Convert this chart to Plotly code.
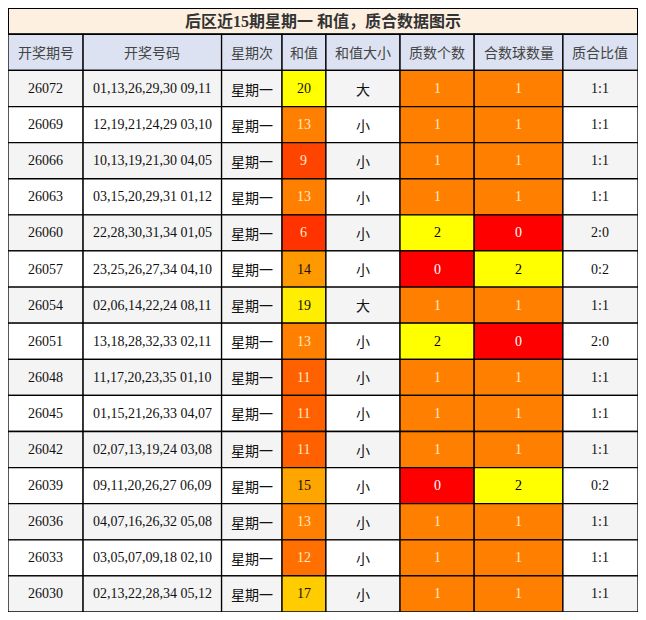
import plotly.graph_objects as go

title = "后区近15期星期一 和值，质合数据图示"
headers = ["开奖期号", "开奖号码", "星期次", "和值", "和值大小", "质数个数", "合数球数量", "质合比值"]
issues = ["26072","26069","26066","26063","26060","26057","26054","26051","26048","26045","26042","26039","26036","26033","26030"]
numbers = ["01,13,26,29,30 09,11","12,19,21,24,29 03,10","10,13,19,21,30 04,05","03,15,20,29,31 01,12",
           "22,28,30,31,34 01,05","23,25,26,27,34 04,10","02,06,14,22,24 08,11","13,18,28,32,33 02,11",
           "11,17,20,23,35 01,10","01,15,21,26,33 04,07","02,07,13,19,24 03,08","09,11,20,26,27 06,09",
           "04,07,16,26,32 05,08","03,05,07,09,18 02,10","02,13,22,28,34 05,12"]
weekday = ["星期一"] * 15
sums = [20,13,9,13,6,14,19,13,11,11,11,15,13,12,17]
size = ["大","小","小","小","小","小","大","小","小","小","小","小","小","小","小"]
primes = [1,1,1,1,2,0,1,2,1,1,1,0,1,1,1]
comps = [1,1,1,1,0,2,1,0,1,1,1,2,1,1,1]
ratio = ["1:1","1:1","1:1","1:1","2:0","0:2","1:1","2:0","1:1","1:1","1:1","0:2","1:1","1:1","1:1"]

sum_col = {6:"#FF3300",9:"#FF4400",11:"#FF6000",12:"#FF7000",13:"#FF8000",14:"#FF9900",
           15:"#FFA500",17:"#FFCC00",19:"#FFEE00",20:"#FFFF00"}
cnt_col = {0:"#FF0000",1:"#FF8000",2:"#FFFF00"}
cnt_font = {0:"#FFFFFF",1:"#FFE8C8",2:"#000000"}

n = len(issues)
colw = [77, 142, 62, 45, 76, 76, 91, 77]
edges = [0]
for w in colw:
    edges.append(edges[-1] + w)
TH, RH = 27, 37
TOT_H = TH + RH * (n + 1)
W, H = 630, 604
fam = "Liberation Serif, Noto Sans CJK SC, serif"
cjk = "Noto Sans CJK SC, sans-serif"

cols = [issues, numbers, weekday, sums, size, primes, comps, ratio]
shapes, ann = [], []

def cell(c, r_top, h, fill, text, color, font, sz):
    x0, x1 = edges[c], edges[c + 1]
    shapes.append(dict(type="rect", x0=x0, x1=x1, y0=r_top, y1=r_top + h, fillcolor=fill,
                       line=dict(color="black", width=1.3), layer="above"))
    ann.append(dict(x=(x0 + x1) / 2, y=r_top + h / 2, text=str(text), showarrow=False,
                    font=dict(family=font, size=sz, color=color)))

shapes.append(dict(type="rect", x0=0, x1=edges[-1], y0=0, y1=TH, fillcolor="#FDF0E1",
                   line=dict(color="black", width=2), layer="above"))
ann.append(dict(x=edges[-1] / 2, y=TH / 2, text="<b>" + title + "</b>", showarrow=False,
                font=dict(family=fam, size=16, color="#333")))
for c, h in enumerate(headers):
    cell(c, TH, RH, "#DCE2F1", h, "#444", cjk, 14)
for r in range(n):
    bg = "#F4F4F4" if r % 2 == 0 else "#FFFFFF"
    top = TH + RH * (r + 1)
    for c in range(8):
        v = cols[c][r]
        fill, color, font = bg, "#111", fam
        if c == 3:
            fill = sum_col[v]; color = "#FFE8C8" if v <= 13 else "#111"
        elif c == 5 or c == 6:
            fill = cnt_col[v]; color = cnt_font[v]
        if c in (2, 4):
            font = cjk
        cell(c, top, RH, fill, v, color, font, 14)

fig = go.Figure(go.Scatter(x=[0, edges[-1]], y=[0, TOT_H], mode="markers",
                           marker=dict(opacity=0), hoverinfo="skip", showlegend=False))
fig.update_layout(width=W, height=H, margin=dict(l=0, r=0, t=0, b=0), paper_bgcolor="white",
                  plot_bgcolor="white", shapes=shapes, annotations=ann,
                  xaxis=dict(range=[0, edges[-1]], visible=False, fixedrange=True),
                  yaxis=dict(range=[TOT_H, 0], visible=False, fixedrange=True))
fig.write_html("out.html")
